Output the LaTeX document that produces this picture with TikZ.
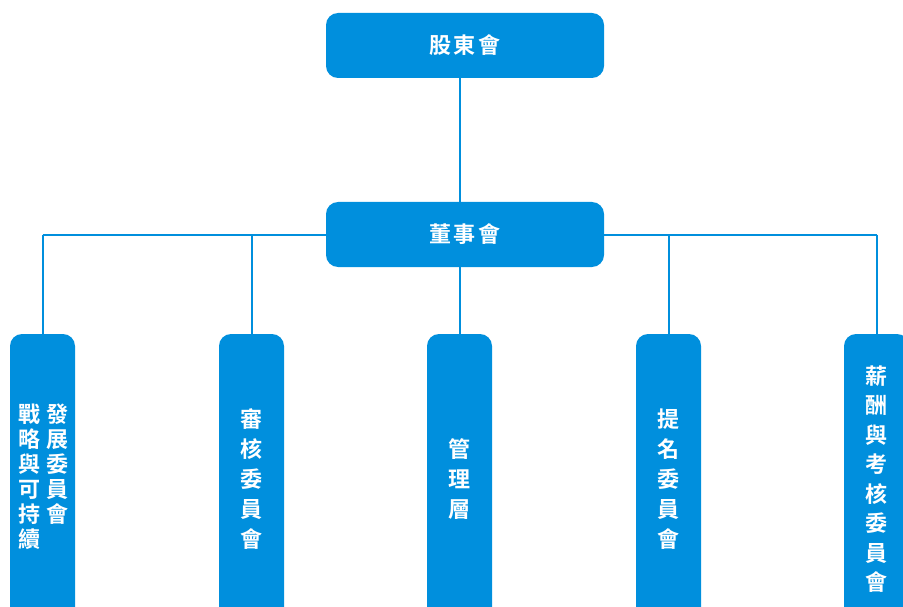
\documentclass[tikz,border=0pt]{standalone}
\usepackage{fontspec}
\newfontfamily\cjk{Noto Sans CJK TC}[BoldFont={Noto Sans CJK TC Bold}]
\usetikzlibrary{backgrounds}
\definecolor{orgblue}{HTML}{008FDD}

\begin{document}
\begin{tikzpicture}[x=1pt, y=-1pt,
  unit/.style={fill=orgblue, rounded corners=12pt, inner sep=0pt},
  label/.style={text=white, font=\cjk\bfseries\fontsize{22}{30}\selectfont, align=center, inner sep=0pt},
  topbox/.style={unit, label, minimum width=278pt, minimum height=65pt},
  subbox/.style={unit, minimum width=65pt, minimum height=290pt},
  link/.style={draw=orgblue, line width=2pt}]

\useasboundingbox (0,0) rectangle (903,607);
\clip (0,0) rectangle (903,607);

\node[topbox] (gdh) at (465,45.5) {股\kern3pt東\kern3pt會};
\node[topbox] (dsh) at (465,234.5) {董\kern3pt事\kern3pt會};

\node[subbox] (sub1) at (42.5,479) {};
\node[subbox] (sub2) at (251.5,479) {};
\node[subbox] (sub3) at (459.5,479) {};
\node[subbox] (sub4) at (668.5,479) {};
\node[subbox] (sub5) at (876.5,479) {};

% committee names, written top to bottom
\node[label, font=\cjk\bfseries\fontsize{22}{25}\selectfont] (txt1a) at (30,476.5) {戰\\略\\與\\可\\持\\續};
\node[label, font=\cjk\bfseries\fontsize{22}{25}\selectfont] (txt1b) at (57.5,464) {發\\展\\委\\員\\會};
\node[label] (txt2) at (sub2) {審\\核\\委\\員\\會};
\node[label] (txt3) at (sub3) {管\\理\\層};
\node[label] (txt4) at (sub4) {提\\名\\委\\員\\會};
\node[label, font=\cjk\bfseries\fontsize{22}{29.5}\selectfont] (txt5) at (sub5) {薪\\酬\\與\\考\\核\\委\\員\\會};

\begin{scope}[on background layer]
  \draw[link] (sub3 |- gdh.south) -- (sub3.north);
  \draw[link] (sub1 |- dsh) -- (sub5 |- dsh);
  \foreach \i in {1,2,4,5}
    \draw[link] (sub\i |- dsh) -- (sub\i.north);
\end{scope}

\end{tikzpicture}
\end{document}
